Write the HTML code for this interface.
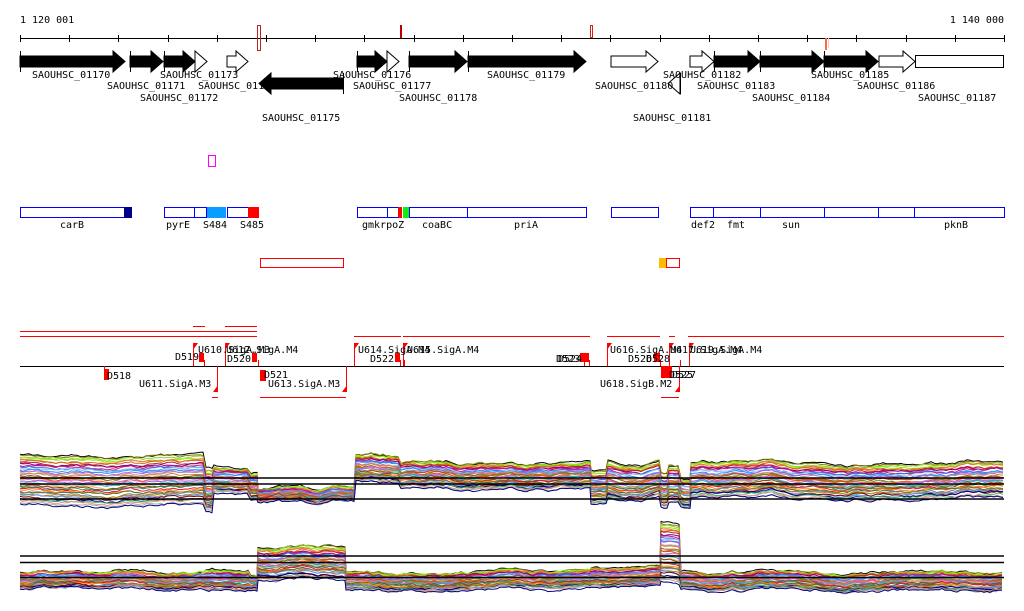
<!DOCTYPE html>
<html><head><meta charset="utf-8">
<style>
html,body{margin:0;padding:0;background:#fff;}
svg{display:block;}
text{font-family:"DejaVu Sans Mono","Liberation Mono",monospace;font-size:10px;fill:#000;}
</style></head>
<body>
<svg id="s" width="1024" height="611" viewBox="0 0 1024 611" xmlns="http://www.w3.org/2000/svg">
<text x="20" y="23">1 120 001</text>
<text x="1004" y="23" text-anchor="end">1 140 000</text>
<line x1="20" y1="38.5" x2="1004" y2="38.5" stroke="#000"/>
<g id="ticks" stroke="#000"></g>
<rect x="257.5" y="25.5" width="3" height="25" fill="none" stroke="#b22"/>
<rect x="400" y="25" width="2" height="13" fill="#b00"/>
<rect x="590.5" y="25.5" width="2" height="12" fill="none" stroke="#c22"/>
<rect x="825" y="38" width="2" height="12" fill="#f64"/>
<rect x="828" y="38" width="1" height="10" fill="#fcc"/>

<g id="genes" stroke="#000" stroke-width="1"></g>
<g>
<text x="32" y="78">SAOUHSC_01170</text>
<text x="107" y="89">SAOUHSC_01171</text>
<text x="140" y="101">SAOUHSC_01172</text>
<text x="160" y="78">SAOUHSC_01173</text>
<text x="198" y="89">SAOUHSC_011</text>
<text x="262" y="121">SAOUHSC_01175</text>
<text x="333" y="78">SAOUHSC_01176</text>
<text x="353" y="89">SAOUHSC_01177</text>
<text x="399" y="101">SAOUHSC_01178</text>
<text x="487" y="78">SAOUHSC_01179</text>
<text x="595" y="89">SAOUHSC_01180</text>
<text x="633" y="121">SAOUHSC_01181</text>
<text x="663" y="78">SAOUHSC_01182</text>
<text x="697" y="89">SAOUHSC_01183</text>
<text x="752" y="101">SAOUHSC_01184</text>
<text x="811" y="78">SAOUHSC_01185</text>
<text x="857" y="89">SAOUHSC_01186</text>
<text x="918" y="101">SAOUHSC_01187</text>
</g>

<rect x="208.5" y="155.5" width="7" height="11" fill="none" stroke="#f0f"/>

<g fill="none" stroke="#00f">
<rect x="20.5" y="207.5" width="111" height="10"/>
<rect x="164.5" y="207.5" width="30" height="10"/>
<rect x="194.5" y="207.5" width="12" height="10"/>
<rect x="227.5" y="207.5" width="31" height="10"/>
<rect x="357.5" y="207.5" width="30" height="10"/>
<rect x="387.5" y="207.5" width="11" height="10"/>
<rect x="409.5" y="207.5" width="58" height="10"/>
<rect x="467.5" y="207.5" width="119" height="10"/>
<rect x="611.5" y="207.5" width="47" height="10"/>
<rect x="690.5" y="207.5" width="23" height="10"/>
<rect x="713.5" y="207.5" width="47" height="10"/>
<rect x="760.5" y="207.5" width="64" height="10"/>
<rect x="824.5" y="207.5" width="54" height="10"/>
<rect x="878.5" y="207.5" width="36" height="10"/>
<rect x="914.5" y="207.5" width="90" height="10"/>
</g>
<rect x="124" y="207" width="8" height="11" fill="#00008b"/>
<rect x="207" y="207" width="19" height="11" fill="#0a9cff"/>
<rect x="248" y="207" width="11" height="11" fill="#f00"/>
<rect x="398" y="207" width="4" height="11" fill="#f00"/>
<rect x="403" y="207" width="6" height="11" fill="#1e1"/>
<text x="60" y="228">carB</text>
<text x="166" y="228">pyrE</text>
<text x="203" y="228">S484</text>
<text x="240" y="228">S485</text>
<text x="362" y="228">gmkrpoZ</text>
<text x="422" y="228">coaBC</text>
<text x="514" y="228">priA</text>
<text x="691" y="228">def2</text>
<text x="727" y="228">fmt</text>
<text x="782" y="228">sun</text>
<text x="944" y="228">pknB</text>

<rect x="260.5" y="258.5" width="83" height="9" fill="none" stroke="#f00"/>
<rect x="659" y="258" width="7" height="10" fill="#fb0"/>
<rect x="666.5" y="258.5" width="13" height="9" fill="none" stroke="#f00"/>

<g stroke="#f00" stroke-width="1">
<line x1="193" y1="326.5" x2="205" y2="326.5"/>
<line x1="225" y1="326.5" x2="257" y2="326.5"/>
<line x1="20" y1="331.5" x2="257" y2="331.5"/>
<line x1="20" y1="336.5" x2="257" y2="336.5"/>
<line x1="354" y1="336.5" x2="401" y2="336.5"/>
<line x1="403" y1="336.5" x2="590" y2="336.5"/>
<line x1="607" y1="336.5" x2="660" y2="336.5"/>
<line x1="669" y1="336.5" x2="675" y2="336.5"/>
<line x1="688" y1="336.5" x2="1004" y2="336.5"/>
<line x1="212" y1="397.5" x2="218" y2="397.5"/>
<line x1="260" y1="397.5" x2="346" y2="397.5"/>
<line x1="661" y1="397.5" x2="679" y2="397.5"/>
</g>
<line x1="20" y1="366.5" x2="1004" y2="366.5" stroke="#000"/>
<g id="marks" fill="#f00" stroke="#f00"></g>
<g>
<text x="198" y="353">U610.SigA.M3</text>
<text x="226" y="353">U612.SigA.M4</text>
<text x="175" y="360">D519</text>
<text x="227" y="362">D520</text>
<text x="358" y="353">U614.SigA.M4</text>
<text x="407" y="353">U615.SigA.M4</text>
<text x="370" y="362">D522</text>
<text x="556" y="362">D523</text>
<text x="558" y="362">D524</text>
<text x="610" y="353">U616.SigA.M4</text>
<text x="670" y="353">U617.SigA.M4</text>
<text x="690" y="353">U619.SigA.M4</text>
<text x="628" y="362">D526</text>
<text x="646" y="362">D528</text>
<text x="107" y="379">D518</text>
<text x="139" y="387">U611.SigA.M3</text>
<text x="264" y="378">D521</text>
<text x="268" y="387">U613.SigA.M3</text>
<text x="600" y="387">U618.SigB.M2</text>
<text x="669" y="378">D525</text>
<text x="672" y="378">D527</text>
</g>

<g id="prof" fill="none" stroke-width="1"></g>
<g stroke="#000" stroke-width="1.5">
<line x1="20" y1="478" x2="1004" y2="478"/>
<line x1="20" y1="484" x2="1004" y2="484"/>
<line x1="20" y1="499" x2="1004" y2="499"/>
<line x1="20" y1="556" x2="1004" y2="556"/>
<line x1="20" y1="562.5" x2="1004" y2="562.5"/>
<line x1="20" y1="577.5" x2="1004" y2="577.5"/>
</g>
</svg>
<script>
var NS="http://www.w3.org/2000/svg";
function el(p,t,a){var e=document.createElementNS(NS,t);for(var k in a)e.setAttribute(k,a[k]);p.appendChild(e);return e;}
var tk=document.getElementById('ticks');
for(var x=20;x<=1005;x+=49.2){el(tk,'line',{x1:Math.round(x)+.5,y1:35,x2:Math.round(x)+.5,y2:42});}
var g=document.getElementById('genes');
function fwd(a,b,fill){var h=Math.min(12,b-a);el(g,'polygon',{points:[a,56,b-h,56,b-h,51,b,61.5,b-h,72,b-h,67,a,67].join(' '),fill:fill});if(fill=='#000')el(g,'line',{x1:a+.5,y1:51,x2:a+.5,y2:72});}
function rev(a,b,fill){var h=Math.min(12,b-a);el(g,'polygon',{points:[b,78,a+h,78,a+h,73,a,83.5,a+h,94,a+h,89,b,89].join(' '),fill:fill});el(g,'line',{x1:b+.5,y1:73,x2:b+.5,y2:94});}
fwd(20,125,'#000');fwd(130,163,'#000');fwd(164,195,'#000');fwd(195,207,'#fff');fwd(227,248,'#fff');
rev(259,343,'#000');fwd(357,387,'#000');fwd(387,399,'#fff');fwd(409,467,'#000');fwd(468,586,'#000');
fwd(611,658,'#fff');rev(668,680,'#fff');fwd(690,714,'#fff');fwd(714,760,'#000');fwd(760,824,'#000');fwd(824,878,'#000');fwd(879,915,'#fff');
el(g,'rect',{x:915.5,y:55.5,width:88,height:12,fill:'#fff'});
var m=document.getElementById('marks');
function flagUp(x,top){el(m,'line',{x1:x+.5,y1:top,x2:x+.5,y2:366});el(m,'polygon',{points:[x,top,x+5,top,x,top+7].join(' '),stroke:'none'});}
function flagDn(x,bot){el(m,'line',{x1:x+.5,y1:366,x2:x+.5,y2:bot});el(m,'polygon',{points:[x+1,bot,x-4,bot,x+1,bot-7].join(' '),stroke:'none'});}
function box(x,y,w,h){el(m,'rect',{x:x,y:y,width:w,height:h,stroke:'none'});}
flagUp(193,343);flagUp(225,343);flagUp(354,343);flagUp(403,343);flagUp(607,343);flagUp(669,343);flagUp(689,343);
box(199,353,5,9);box(252,353,5,9);box(395,353,5,9);box(580,353,9,9);box(654,353,6,9);
[204,258,400,404,584,589,660,680].forEach(function(x){el(m,'line',{x1:x+.5,y1:360,x2:x+.5,y2:366});});
flagDn(217,392);flagDn(346,392);flagDn(679,392);
el(m,'line',{x1:104.5,y1:366,x2:104.5,y2:372});box(104,369,5,11);box(260,370,6,11);box(661,366,11,12);
var seed=7;function r(){seed=(seed*16807)%2147483647;return seed/2147483647;}
var cols=['#000','#808000','#9acd32','#7cfc00','#ff6347','#d2691e','#b22222','#8b008b','#c71585','#4169e1','#87ceeb','#1e90ff','#ba55d3','#bc8f8f','#cd853f','#a0522d','#6b8e23','#ff4500','#da70d6','#9370db','#20b2aa','#f4a460','#8b4513','#2e8b57','#dc143c','#ff8c00','#556b2f','#708090','#b8860b','#6495ed','#800000','#00008b','#3cb371','#e9967a','#a9a9a9','#000080'];
var P=document.getElementById('prof');
var seg1=[[20,205,455,505],[206,213,470,512],[214,248,466,492],[251,257,472,500],[258,355,488,502],[356,400,455,482],[401,590,462,488],[591,607,472,505],[608,660,463,500],[661,668,475,510],[669,680,468,505],[681,690,480,510],[691,1004,462,498]];
var seg2=[[20,205,573,590],[206,248,570,590],[251,257,575,590],[258,345,547,580],[346,400,572,590],[401,590,572,590],[591,660,570,590],[661,680,525,585],[681,1004,572,590]];
function draw(seg,N){
 var xs=[],common=[],c=0;
 seg.forEach(function(s){for(var x=s[0];x<=s[1];x+=3){c=c*0.9+(r()-0.5)*2.2;xs.push([x,s,c]);}});
 for(var i=0;i<N;i++){var f=i/(N-1);var pts=[];var w=0;
  xs.forEach(function(p){w=w*0.85+(r()-0.5)*1.2;var s=p[1];var y=s[2]+(s[3]-s[2])*f+p[2]+w;pts.push(p[0]+','+y.toFixed(1));});
  el(P,'polyline',{points:pts.join(' '),stroke:cols[i%cols.length]});}}
draw(seg1,36);draw(seg2,36);
</script>
</body></html>
